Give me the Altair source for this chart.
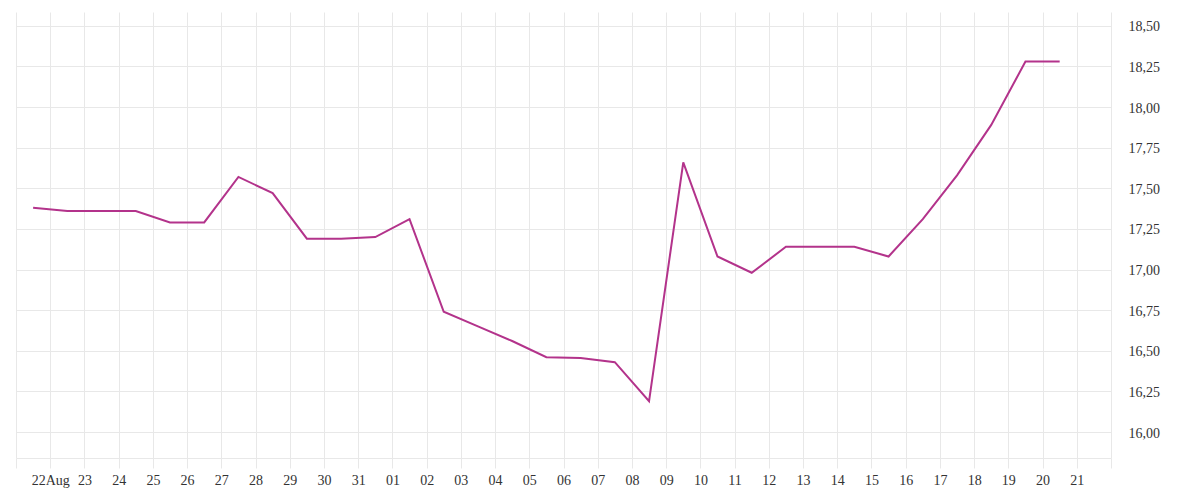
import altair as alt
import pandas as pd
from datetime import datetime, timedelta, timezone

# Daily values (noon of each day), 21 Aug .. 20 Sep
dates = [datetime(2023, 8, 21, 12, tzinfo=timezone.utc) + timedelta(days=i) for i in range(31)]
values = [17.38, 17.36, 17.36, 17.36, 17.29, 17.29, 17.57, 17.47, 17.19, 17.19, 17.20,
          17.31, 16.74, 16.65, 16.56, 16.46, 16.455, 16.43, 16.19, 17.66, 17.08, 16.98,
          17.14, 17.14, 17.14, 17.08, 17.31, 17.58, 17.89, 18.28, 18.28]

# Day ticks 21 Aug .. 22 Sep (midnight)
tick_start = datetime(2023, 8, 21, tzinfo=timezone.utc)
tick_dates = [tick_start + timedelta(days=i) for i in range(33)]
tick_labels = ["", "22Aug", "23", "24", "25", "26", "27", "28", "29", "30", "31",
               "01", "02", "03", "04", "05", "06", "07", "08", "09", "10", "11",
               "12", "13", "14", "15", "16", "17", "18", "19", "20", "21", ""]
y_ticks = [16.0, 16.25, 16.5, 16.75, 17.0, 17.25, 17.5, 17.75, 18.0, 18.25, 18.5]

df = pd.DataFrame({"date": [d.strftime("%Y-%m-%dT%H:%M:%SZ") for d in dates], "value": values})

t0 = int(tick_start.timestamp() * 1000)
label_arr = "[" + ",".join("'" + s + "'" for s in tick_labels) + "]"
x_label_expr = f"{label_arr}[round((datum.value - {t0}) / 86400000)]"
tick_vals = [d.strftime("%Y-%m-%dT%H:%M:%SZ") for d in tick_dates]

FONT = "Liberation Serif"
GRID = "#e8e8e8"

chart = alt.Chart(df).mark_line(color="#b3338b", strokeWidth=2).encode(
    x=alt.X("date:T",
            scale=alt.Scale(type="utc", domain=[tick_vals[0], tick_vals[-1]], nice=False),
            axis=alt.Axis(title=None, values=tick_vals, labelExpr=x_label_expr,
                          grid=True, gridColor=GRID, domainColor=GRID, tickColor=GRID,
                          tickSize=10, labelPadding=5, labelOverlap=False, labelFlush=False,
                          labelFont=FONT, labelFontSize=14, labelColor="#333333")),
    y=alt.Y("value:Q",
            scale=alt.Scale(domain=[15.84, 18.585], nice=False, zero=False),
            axis=alt.Axis(title=None, orient="right", values=y_ticks,
                          labelExpr="replace(format(datum.value, '.2f'), '.', ',')",
                          grid=True, gridColor=GRID, domain=False, ticks=False,
                          labelPadding=17, labelBaseline="middle", labelOffset=1,
                          labelAlign="left", labelFont=FONT, labelFontSize=14,
                          labelColor="#333333")),
).properties(
    width=1095, height=446,
    padding={"left": 7, "top": 4, "right": 5, "bottom": 5},
).configure_view(strokeWidth=0)

chart.save("out.html", embed_options={"renderer": "svg", "actions": False})
